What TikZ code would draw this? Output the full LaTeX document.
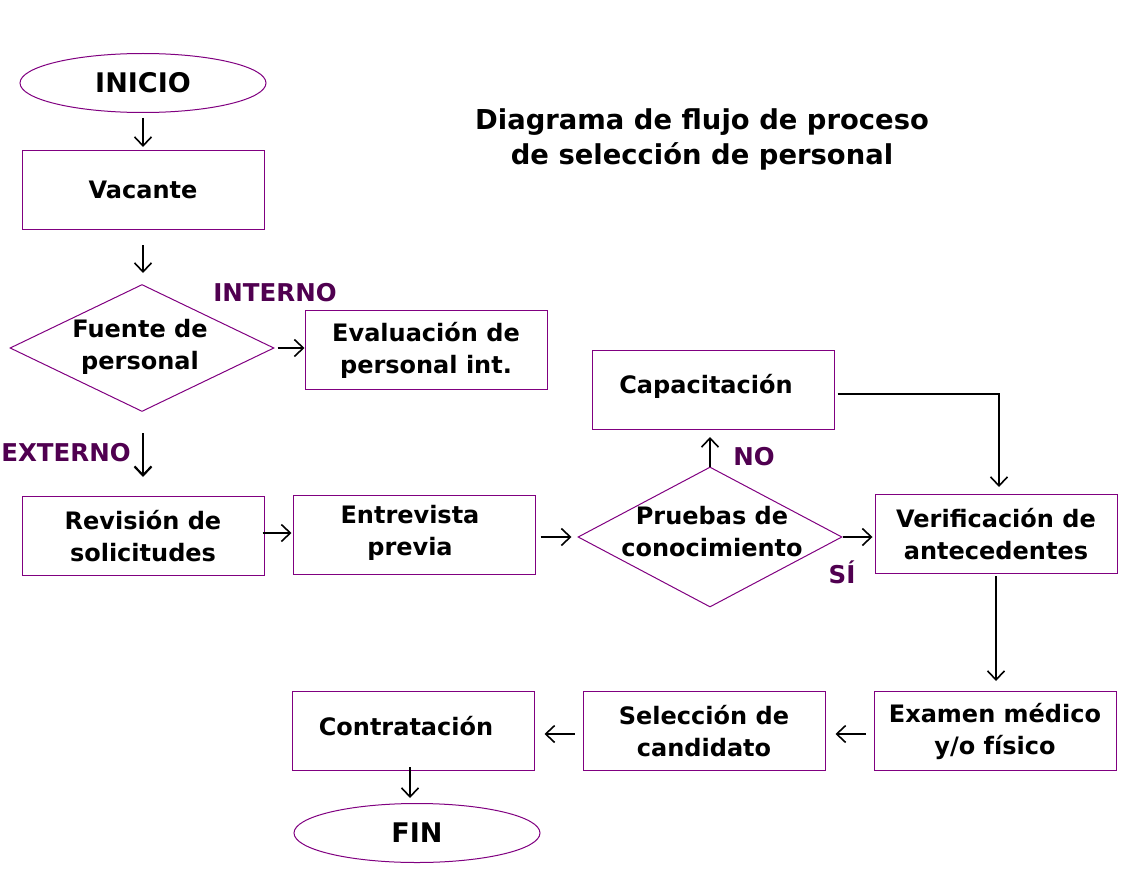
\documentclass[tikz,border=0pt]{standalone}
\usepackage{fontspec}
\setmainfont{DejaVu Sans}
\usetikzlibrary{shapes.geometric,arrows.meta,calc}
\definecolor{boxpurple}{RGB}{128,0,128}
\definecolor{labpurple}{RGB}{80,0,80}
\tikzset{
  stepbox/.style={draw=boxpurple,line width=1pt,minimum width=242pt,minimum height=79pt,inner sep=0pt,align=center,font=\fontsize{24}{32}\selectfont\bfseries},
  termbox/.style={ellipse,draw=boxpurple,line width=1pt,minimum width=246pt,minimum height=59pt,inner sep=0pt,font=\fontsize{27}{30}\selectfont\bfseries},
  decbox/.style={diamond,draw=boxpurple,line width=1pt,minimum width=264pt,minimum height=127pt,inner sep=0pt},
  dectext/.style={align=center,inner sep=0pt,font=\fontsize{24}{32}\selectfont\bfseries},
  lab/.style={text=labpurple,font=\fontsize{24.5}{26}\selectfont\bfseries,inner sep=0pt},
  arr/.style={-{Straight Barb[length=9pt,width=17pt]},line width=1.6pt,black}
}
\begin{document}
\begin{tikzpicture}[x=1pt,y=-1pt]
\useasboundingbox (0,0) rectangle (1148,888);
% title
\node[align=center,font=\fontsize{27.4}{35}\selectfont\bfseries] (title) at (702,139) {Diagrama de flujo de proceso\\de selección de personal};
% nodes
\node[termbox] (ini) at (143,83) {INICIO};
\node[stepbox] (vac) at (143,190) {Vacante};
\node[decbox] (fue) at (142,348) {};
\node[dectext] (fuet) at (140,347) {Fuente de\\personal};
\node[stepbox] (eva) at (426,350) {Evaluación de\\personal int.};
\node[stepbox] (rev) at (143,536) {Revisión de\\solicitudes};
\node[stepbox] (ent) at (414,535) {};
\node[dectext] (entt) at (410,533) {Entrevista\\previa};
\node[decbox,minimum height=140pt] (pru) at (710,537) {};
\node[dectext] (prut) at (712,532) {Pruebas de\\conocimiento};
\node[stepbox] (cap) at (713,390) {};
\node[dectext] (capt) at (706,386) {Capacitación};
\node[stepbox] (ver) at (996,534) {Verificación de\\antecedentes};
\node[stepbox] (exa) at (995,731) {Examen médico\\y/o físico};
\node[stepbox] (sel) at (704,731) {Selección de\\candidato};
\node[stepbox] (con) at (413,731) {};
\node[dectext] (cont) at (406,726) {Contratación};
\node[termbox] (fin) at (417,833) {FIN};
% labels
\node[lab] (lint) at (275,293) {INTERNO};
\node[lab] (lext) at (66,453) {EXTERNO};
\node[lab] (lno) at (754,457) {NO};
\node[lab] (lsi) at (842,572) {SÍ};
% connectors
\draw[arr,shorten <=5pt,shorten >=3pt] (ini.south) -- (vac.north);
\draw[arr,shorten <=15pt,shorten >=11pt] (vac.south) -- (vac.south |- fue.north);
\draw[arr,shorten <=3pt] (fue.east) -- (eva.west |- fue.east);
\draw[arr,line width=2.2pt,shorten <=21pt,shorten >=19pt] (rev.north |- fue.south) -- (rev.north);
\draw[arr,shorten <=-2pt,shorten >=1pt] ($(rev.east)+(0,-3)$) -- ($(ent.west)+(0,-2)$);
\draw[arr,shorten <=5pt,shorten >=6pt] ($(ent.east)+(0,2)$) -- (pru.west);
\draw[arr,shorten >=7pt] (pru.north) -- (pru.north |- cap.south);
\draw[arr,shorten >=2pt] (pru.east) -- (ver.west |- pru.east);
\draw[arr,shorten >=7pt] ($(cap.east)+(3,4)$) -| ($(ver.north)+(3,0)$);
\draw[arr,shorten <=2pt,shorten >=10pt] (ver.south) -- (ver.south |- exa.north);
\draw[arr,shorten <=8pt,shorten >=10pt] ($(exa.west)+(0,3)$) -- ($(sel.east)+(0,3)$);
\draw[arr,shorten <=8pt,shorten >=10pt] ($(sel.west)+(0,3)$) -- ($(con.east)+(0,3)$);
\draw[arr,shorten <=-4pt,shorten >=7pt] ($(con.south)+(-3,0)$) -- ($(con.south)+(-3,34)$);
\end{tikzpicture}
\end{document}
